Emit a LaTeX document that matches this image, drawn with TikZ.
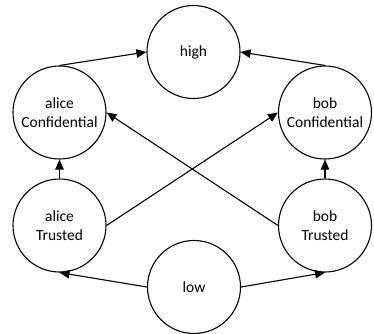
\documentclass[tikz,border=0pt]{standalone}
\usepackage{fontspec}
\setmainfont{Carlito}
\usetikzlibrary{arrows.meta}
\begin{document}
\begin{tikzpicture}[x=1pt,y=-1pt,
  state/.style={circle,draw,line width=1.1pt,minimum size=93pt,inner sep=0pt,align=center,font=\fontsize{15.5}{19.5}\selectfont},
  arr/.style={line width=1.1pt,-{Triangle[length=10pt,width=8.5pt]}}]
\useasboundingbox (0,0) rectangle (374,333);
\node[state] (high) at (193.5,52) {high};
\node[state] (aC) at (59.5,112.5) {alice\\Confidential};
\node[state] (bC) at (325,112.5) {bob\\Confidential};
\node[state] (aT) at (59.5,225.5) {alice\\Trusted};
\node[state] (bT) at (325,225.5) {bob\\Trusted};
\node[state] (low) at (194,287) {low};
\draw[arr] (aC.north) -- (high.west);
\draw[arr] (bC.north) -- (high.east);
\draw[arr] (aT.north) -- (aC.south);
\draw[arr] (bT.north) -- (bC.south);
\draw[arr] (low.west) -- (aT.south);
\draw[arr] (low.east) -- (bT.south);
\draw[arr] (aT.east) -- (bC.west);
\draw[arr] (bT.west) -- (aC.east);
\end{tikzpicture}
\end{document}
